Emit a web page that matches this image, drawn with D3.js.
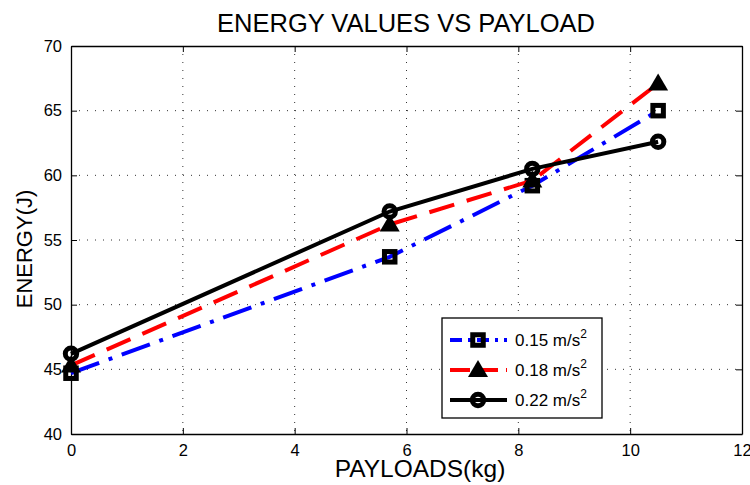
<!DOCTYPE html>
<html>
<head>
<meta charset="utf-8">
<script src="https://cdn.jsdelivr.net/npm/d3@7"></script>
<style>
  body { margin: 0; background: #fff; }
  svg text { font-family: "Liberation Sans", Arial, sans-serif; fill: #000; }
</style>
</head>
<body>
<div id="chart"></div>
<script>
// payload values (kg)
var payloads = [0, 5.7, 8.25, 10.5];
// energy (J) for each acceleration
var energy015 = [44.7, 53.7, 59.2, 65.0];
var energy018 = [45.3, 56.2, 59.6, 67.1];
var energy022 = [46.2, 57.2, 60.5, 62.6];
var seriesLabels = ["0.15", "0.18", "0.22"];
var xTicks = [0, 2, 4, 6, 8, 10, 12];
var yTicks = [40, 45, 50, 55, 60, 65, 70];

var W = 750, H = 485;
var margin = {top: 46, right: 8, bottom: 51, left: 71};
var width = W - margin.left - margin.right;
var height = H - margin.top - margin.bottom;

var svg = d3.select("#chart").append("svg")
  .attr("width", W)
  .attr("height", H);

var g = svg.append("g")
  .attr("transform", "translate(" + margin.left + "," + margin.top + ")");

var x = d3.scaleLinear().domain([0, 12]).range([0, width]);
var y = d3.scaleLinear().domain([40, 70]).range([height, 0]);

// dotted grid
g.selectAll(".vgrid").data(xTicks.slice(1, -1)).enter().append("line")
  .attr("x1", function (d) { return x(d); })
  .attr("x2", function (d) { return x(d); })
  .attr("y1", 0).attr("y2", height)
  .attr("stroke", "#333").attr("stroke-width", 1)
  .attr("stroke-dasharray", "1,7");
g.selectAll(".hgrid").data(yTicks.slice(1, -1)).enter().append("line")
  .attr("y1", function (d) { return y(d); })
  .attr("y2", function (d) { return y(d); })
  .attr("x1", 0).attr("x2", width)
  .attr("stroke", "#333").attr("stroke-width", 1)
  .attr("stroke-dasharray", "1,7");

// axes, ticks pointing inward
var xAxis = d3.axisBottom(x).tickValues(xTicks).tickSizeInner(-6).tickSizeOuter(0).tickPadding(10);
var yAxis = d3.axisLeft(y).tickValues(yTicks).tickSizeInner(-6).tickSizeOuter(0).tickPadding(9);
var xTop = d3.axisTop(x).tickValues(xTicks).tickSizeInner(-6).tickSizeOuter(0).tickFormat("");
var yRight = d3.axisRight(y).tickValues(yTicks).tickSizeInner(-6).tickSizeOuter(0).tickFormat("");

g.append("g").attr("transform", "translate(0," + height + ")").call(xAxis);
g.append("g").call(yAxis);
g.append("g").call(xTop);
g.append("g").attr("transform", "translate(" + width + ",0)").call(yRight);

g.selectAll(".domain").attr("stroke", "#000").attr("stroke-width", 1.3);
g.selectAll(".tick line").attr("stroke", "#000");
g.selectAll(".tick text").style("font-size", "16.5px");

// series
var series = [
  {vals: energy015, color: "#0000ff", dash: "30,10,4,10", marker: "square"},
  {vals: energy018, color: "#ff0000", dash: "26,13", marker: "triangle"},
  {vals: energy022, color: "#000000", dash: null, marker: "circle"}
];

var line = d3.line()
  .x(function (d) { return x(d[0]); })
  .y(function (d) { return y(d[1]); });

function drawMarker(sel, type, cx, cy) {
  if (type == "square") {
    sel.append("rect")
      .attr("x", cx - 5.25).attr("y", cy - 5.25)
      .attr("width", 10.5).attr("height", 10.5)
      .attr("fill", "none").attr("stroke", "#000").attr("stroke-width", 5);
  } else if (type == "triangle") {
    sel.append("path")
      .attr("d", "M" + cx + "," + (cy - 10) + "L" + (cx + 10) + "," + (cy + 7) + "L" + (cx - 10) + "," + (cy + 7) + "Z")
      .attr("fill", "#000");
  } else {
    sel.append("circle")
      .attr("cx", cx).attr("cy", cy).attr("r", 5.7)
      .attr("fill", "none").attr("stroke", "#000").attr("stroke-width", 5);
  }
}

series.forEach(function (s) {
  var pts = payloads.map(function (p, i) { return [p, s.vals[i]]; });
  g.append("path")
    .datum(pts)
    .attr("d", line)
    .attr("fill", "none")
    .attr("stroke", s.color)
    .attr("stroke-width", 4)
    .attr("stroke-dasharray", s.dash);
  var mg = g.append("g");
  pts.forEach(function (d) { drawMarker(mg, s.marker, x(d[0]), y(d[1])); });
});

// legend
var lg = svg.append("g").attr("transform", "translate(442,318)");
lg.append("rect")
  .attr("width", 160).attr("height", 100)
  .attr("fill", "#fff").attr("stroke", "#000").attr("stroke-width", 1.3);

series.forEach(function (s, i) {
  var ly = 22 + i * 30;
  lg.append("line")
    .attr("x1", 8).attr("x2", 65)
    .attr("y1", ly).attr("y2", ly)
    .attr("stroke", s.color).attr("stroke-width", 4)
    .attr("stroke-dasharray", s.dash ? (i == 0 ? "12,6,3,6" : "20,8") : null);
  drawMarker(lg, s.marker, 36, ly);
  var t = lg.append("text")
    .attr("x", 73).attr("y", ly + 6)
    .style("font-size", "17px");
  t.append("tspan").text(seriesLabels[i] + " m/s");
  t.append("tspan").attr("dy", -8).style("font-size", "12px").text("2");
});

// title and axis labels
svg.append("text")
  .attr("x", 406).attr("y", 32)
  .attr("text-anchor", "middle")
  .style("font-size", "25.5px")
  .text("ENERGY VALUES VS PAYLOAD");

svg.append("text")
  .attr("x", 420).attr("y", 477)
  .attr("text-anchor", "middle")
  .style("font-size", "24.5px")
  .text("PAYLOADS(kg)");

svg.append("text")
  .attr("transform", "translate(32,249) rotate(-90)")
  .attr("text-anchor", "middle")
  .style("font-size", "22px")
  .text("ENERGY(J)");
</script>
</body>
</html>
